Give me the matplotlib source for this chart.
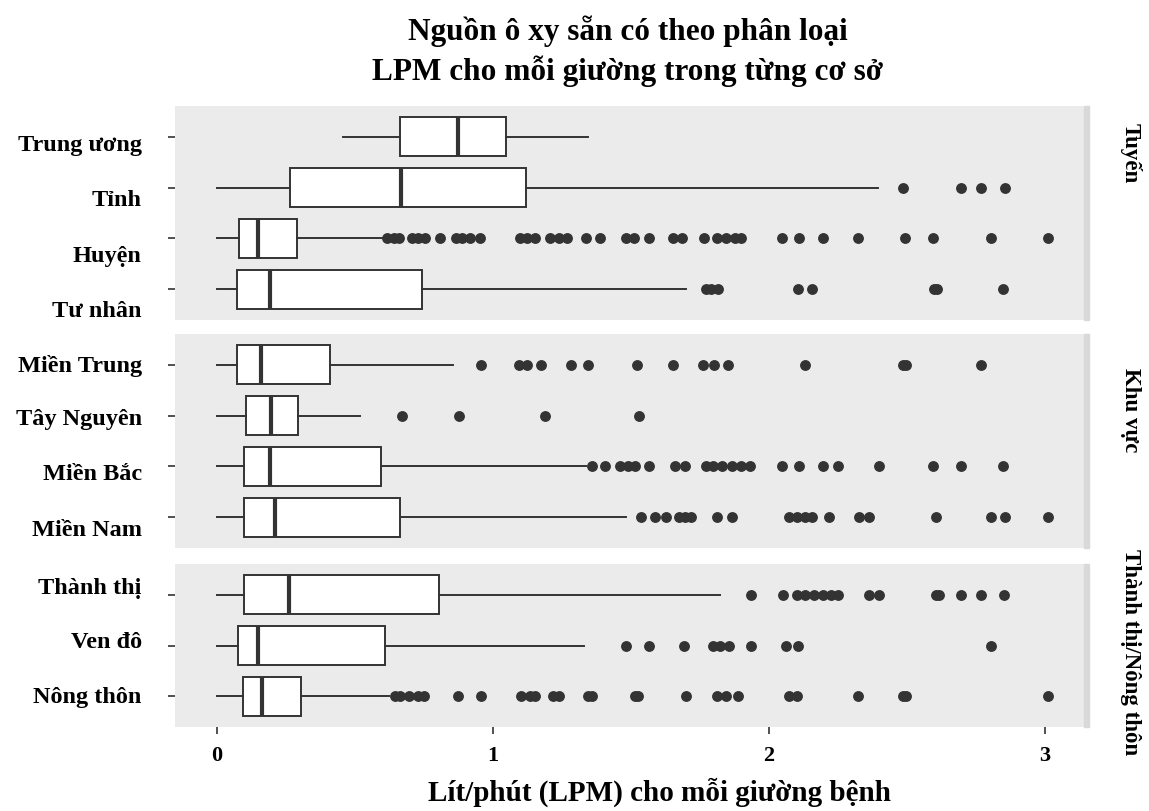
import matplotlib
matplotlib.use("Agg")
import matplotlib.pyplot as plt
from matplotlib.patches import Rectangle
from matplotlib.transforms import ScaledTranslation

plt.rcParams['font.family'] = ['Liberation Serif', 'DejaVu Serif']
plt.rcParams['font.weight'] = 'bold'

# data (LPM per bed)
panels = ["Tuyến", "Khu vực", "Thành thị/Nông thôn"]
panel_sizes = [4, 4, 3]
categories = ["Trung ương", "Tỉnh", "Huyện", "Tư nhân",
              "Miền Trung", "Tây Nguyên", "Miền Bắc", "Miền Nam",
              "Thành thị", "Ven đô", "Nông thôn"]
whisker_lo = [0.457, 0.0, 0.0, 0.0, 0.0, 0.0, 0.0, 0.0, 0.0, 0.0, 0.0]
q1 = [0.663, 0.263, 0.080, 0.072, 0.072, 0.106, 0.097, 0.097, 0.097, 0.076, 0.093]
median = [0.873, 0.667, 0.150, 0.191, 0.161, 0.197, 0.191, 0.212, 0.261, 0.148, 0.165]
q3 = [1.046, 1.120, 0.291, 0.744, 0.408, 0.295, 0.595, 0.665, 0.803, 0.608, 0.306]
whisker_hi = [1.346, 2.394, 0.601, 1.699, 0.856, 0.518, 1.339, 1.484, 1.824, 1.329, 0.623]
outliers = [
    [],
    [2.485, 2.698, 2.768, 2.857],
    [0.618, 0.640, 0.661, 0.708, 0.729, 0.754, 0.810, 0.867, 0.888, 0.916, 0.952,
     1.097, 1.122, 1.154, 1.207, 1.239, 1.267, 1.339, 1.388, 1.484, 1.511, 1.565,
     1.654, 1.686, 1.766, 1.813, 1.845, 1.877, 1.898, 2.047, 2.111, 2.196, 2.324,
     2.494, 2.596, 2.806, 3.011],
    [1.771, 1.792, 1.817, 2.105, 2.158, 2.598, 2.610, 2.849],
    [0.958, 1.094, 1.122, 1.175, 1.282, 1.346, 1.522, 1.654, 1.760, 1.803, 1.852,
     2.132, 2.485, 2.498, 2.768],
    [0.669, 0.878, 1.188, 1.531],
    [1.360, 1.405, 1.462, 1.488, 1.516, 1.565, 1.660, 1.696, 1.771, 1.798, 1.830,
     1.866, 1.898, 1.930, 2.047, 2.111, 2.196, 2.249, 2.398, 2.596, 2.698, 2.849],
    [1.537, 1.586, 1.626, 1.675, 1.696, 1.718, 1.813, 1.866, 2.073, 2.101, 2.132,
     2.158, 2.217, 2.328, 2.362, 2.604, 2.806, 2.855, 3.011],
    [1.937, 2.052, 2.101, 2.132, 2.164, 2.196, 2.224, 2.249, 2.362, 2.398, 2.604,
     2.617, 2.698, 2.768, 2.851],
    [1.484, 1.565, 1.692, 1.798, 1.824, 1.856, 1.934, 2.062, 2.107, 2.806],
    [0.644, 0.665, 0.697, 0.729, 0.750, 0.873, 0.958, 1.101, 1.133, 1.154, 1.218,
     1.239, 1.346, 1.360, 1.516, 1.526, 1.701, 1.813, 1.845, 1.888, 2.073, 2.101,
     2.324, 2.485, 2.498, 3.011],
]
x_ticks = [0, 1, 2, 3]

W, H = 1149, 812
fig = plt.figure(figsize=(W / 100, H / 100), dpi=100)

# panel boxes in pixels (left, top, right, bottom)
panel_px = [(175, 107, 1084, 321), (175, 335, 1084, 549), (175, 565, 1084, 728)]
# vertical nudges of the row labels in pixels (the original has them drifting)
label_shift = [5, 9, 15, 19, -2, 0, 5, 10, -10, -6, -2]
strip_y = [153, 410, 652]

dark = '#333333'
start = 0
for p, (name, n) in enumerate(zip(panels, panel_sizes)):
    l, t, r, b = panel_px[p]
    ax = fig.add_axes([l / W, 1 - b / H, (r - l) / W, (b - t) / H])
    ax.set_facecolor('#EBEBEB')
    idx = list(range(start, start + n))
    stats = []
    for i in idx:
        stats.append(dict(label=categories[i], whislo=whisker_lo[i], q1=q1[i],
                          med=median[i], q3=q3[i], whishi=whisker_hi[i],
                          fliers=outliers[i]))
    positions = list(range(n, 0, -1))
    ax.bxp(stats, positions=positions, orientation='horizontal', widths=0.78,
           patch_artist=True, showcaps=False,
           boxprops=dict(facecolor='white', edgecolor=dark, linewidth=1.4),
           whiskerprops=dict(color=dark, linewidth=1.4),
           medianprops=dict(color=dark, linewidth=3.0),
           flierprops=dict(marker='o', markerfacecolor=dark, markeredgecolor=dark,
                           markersize=6.8, linestyle='none'))
    ax.set_xlim(-0.152, 3.142)
    ax.set_ylim(0.4, n + 0.6)
    ax.set_yticks(positions, [categories[i] for i in idx])
    ax.tick_params(axis='y', length=5, width=1.2, color=dark, pad=19,
                   labelsize=17.5, labelcolor='black')
    for s in ax.spines.values():
        s.set_visible(False)
    ax.set_xticks(x_ticks)
    if p == len(panels) - 1:
        ax.tick_params(axis='x', length=5, width=1.2, color=dark, pad=8,
                       labelsize=16)
        ax.set_xticklabels([str(v) for v in x_ticks], fontweight='bold')
    else:
        ax.tick_params(axis='x', length=0, labelbottom=False)
    for lab, i in zip(ax.get_yticklabels(), idx):
        lab.set_fontweight('bold')
        lab.set_transform(lab.get_transform() +
                          ScaledTranslation(0, -label_shift[i] / 100, fig.dpi_scale_trans))
    # thin strip on the right of each panel
    fig.patches.append(Rectangle((r / W, 1 - b / H), 5 / W, (b - t) / H,
                                 transform=fig.transFigure, color='#D9D9D9'))
    fig.text(1131 / W, 1 - strip_y[p] / H, name, rotation=-90, fontsize=16.5,
             fontweight='bold', ha='center', va='center')
    start += n

fig.text(628 / W, 1 - 31 / H, "Nguồn ô xy sẵn có theo phân loại", fontsize=22.5,
         fontweight='bold', ha='center', va='center')
fig.text(628 / W, 1 - 71 / H, "LPM cho mỗi giường trong từng cơ sở", fontsize=22.5,
         fontweight='bold', ha='center', va='center')
fig.text(659 / W, 1 - 792 / H, "Lít/phút (LPM) cho mỗi giường bệnh", fontsize=21,
         fontweight='bold', ha='center', va='center')

fig.savefig('out.png', dpi=100, facecolor='white')
